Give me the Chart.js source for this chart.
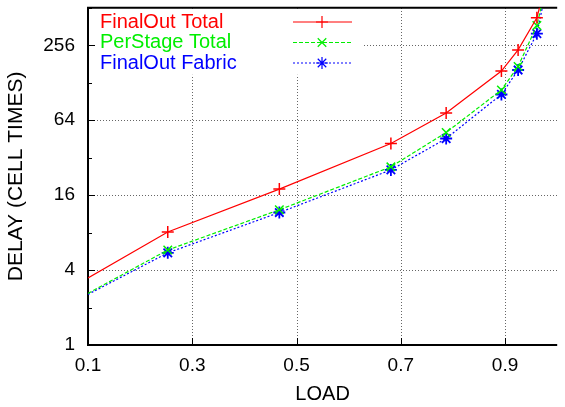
<!DOCTYPE html>
<html>
<head>
<meta charset="utf-8">
<script src="https://cdn.jsdelivr.net/npm/chart.js@4.4.1/dist/chart.umd.min.js"></script>
<style>
  body { margin: 0; background: #fff; }
  canvas { display: block; }
</style>
</head>
<body>
<canvas id="delayChart" width="565" height="407"></canvas>
<script>
// values
const load = [0.1, 0.253, 0.467, 0.681, 0.787, 0.893, 0.925, 0.961, 0.975];
const finalOutTotal = [3.46, 8.1, 17.9, 41.6, 73, 159, 235, 425, 720];
const perStageTotal = [2.6, 5.8, 12.2, 27, 51, 112, 173, 369, 656];
const finalOutFabric = [2.55, 5.5, 11.6, 25.5, 45.6, 103, 162, 317, 605];

const xTicks = [0.1, 0.3, 0.5, 0.7, 0.9];
const yTicks = [1, 2, 4, 8, 16, 32, 64, 128, 256, 512];
const yTickLabels = [1, 4, 16, 64, 256];

const FONT = 'Liberation Sans, Arial, sans-serif';

function pts(ys) {
    return ys.map((y, i) => ({ x: load[i], y: y }));
}

// first sample sits on the left border, gnuplot shows no marker there
const hideFirst = ctx => ctx.dataIndex === 0 ? 0 : 6;

// grid, inward ticks, border and the opaque key box (gnuplot look)
const frame = {
    id: 'frame',
    beforeDatasetsDraw(chart) {
        const c = chart.ctx;
        const a = chart.chartArea;
        const xs = chart.scales.x, ys = chart.scales.y;
        c.save();
        c.strokeStyle = '#666';
        c.lineWidth = 1;
        c.setLineDash([1, 2]);
        xTicks.slice(1).forEach(v => {
            const px = Math.round(xs.getPixelForValue(v)) + 0.5;
            c.beginPath(); c.moveTo(px, a.bottom); c.lineTo(px, a.top); c.stroke();
        });
        yTickLabels.slice(1).forEach(v => {
            const py = Math.round(ys.getPixelForValue(v)) + 0.5;
            c.beginPath(); c.moveTo(a.left, py); c.lineTo(a.right, py); c.stroke();
        });
        c.setLineDash([]);
        // key box hides the grid
        c.fillStyle = '#fff';
        c.fillRect(a.left + 2, a.top + 1, 273, 66);

        c.strokeStyle = '#000';
        c.lineWidth = 1;
        yTicks.forEach(v => {
            const py = Math.round(ys.getPixelForValue(v)) + 0.5;
            const len = yTickLabels.includes(v) ? 7 : 4;
            c.beginPath(); c.moveTo(a.left, py); c.lineTo(a.left + len, py); c.stroke();
        });
        xTicks.forEach(v => {
            const px = Math.round(xs.getPixelForValue(v)) + 0.5;
            c.beginPath(); c.moveTo(px, a.bottom); c.lineTo(px, a.bottom - 7); c.stroke();
        });
        c.lineWidth = 2;
        c.beginPath();
        c.moveTo(a.right, a.top);
        c.lineTo(a.left, a.top);
        c.lineTo(a.left, a.bottom);
        c.lineTo(a.right, a.bottom);
        c.stroke();
        c.restore();
    },
    afterDatasetsDraw(chart) {
        const c = chart.ctx;
        c.save();
        c.font = '20px ' + FONT;
        c.textBaseline = 'middle';
        chart.data.datasets.forEach((ds, i) => {
            const y = 22 + i * 20.5;
            c.fillStyle = ds.borderColor;
            c.fillText(ds.label, 100, y);
            c.strokeStyle = ds.borderColor;
            c.lineWidth = 1.2;
            c.setLineDash(ds.borderDash || []);
            c.beginPath(); c.moveTo(293, y); c.lineTo(352, y); c.stroke();
            c.setLineDash([]);
            Chart.helpers.drawPoint(c, { pointStyle: ds.pointStyle, radius: 6, borderWidth: 1.5 }, 322, y);
        });
        c.restore();
    }
};

new Chart(document.getElementById('delayChart'), {
    type: 'line',
    data: {
        datasets: [{
            label: 'FinalOut Total',
            data: pts(finalOutTotal),
            borderColor: '#ff0000',
            borderWidth: 1.2,
            pointStyle: 'cross',
            pointRadius: hideFirst,
            pointBorderWidth: 1.5,
            pointBorderColor: '#ff0000'
        }, {
            label: 'PerStage Total',
            data: pts(perStageTotal),
            borderColor: '#00ee00',
            borderWidth: 1.2,
            borderDash: [4, 2],
            pointStyle: 'crossRot',
            pointRadius: hideFirst,
            pointBorderWidth: 1.5,
            pointBorderColor: '#00ee00'
        }, {
            label: 'FinalOut Fabric',
            data: pts(finalOutFabric),
            borderColor: '#0000ff',
            borderWidth: 1.2,
            borderDash: [2, 2],
            pointStyle: 'star',
            pointRadius: hideFirst,
            pointBorderWidth: 1.8,
            pointBorderColor: '#0000ff'
        }]
    },
    options: {
        responsive: false,
        animation: false,
        layout: { padding: { top: 6, right: 0, left: 0, bottom: 0 } },
        plugins: { legend: { display: false }, tooltip: { enabled: false } },
        elements: { line: { tension: 0, fill: false } },
        scales: {
            x: {
                type: 'linear',
                min: 0.1,
                max: 1.0,
                afterBuildTicks(scale) { scale.ticks = xTicks.map(v => ({ value: v })); },
                afterFit(scale) { scale.height = 62; scale.paddingLeft = 0; scale.paddingRight = 0; },
                grid: { display: false, drawTicks: false },
                border: { display: false },
                ticks: {
                    autoSkip: false,
                    maxRotation: 0,
                    padding: 9,
                    color: '#000',
                    font: { family: FONT, size: 19 },
                    callback: v => v.toFixed(1)
                },
                title: {
                    display: true,
                    text: 'LOAD',
                    color: '#000',
                    padding: { top: 0, bottom: 1 },
                    font: { family: FONT, size: 20 }
                }
            },
            y: {
                type: 'logarithmic',
                min: 1,
                max: 512,
                afterBuildTicks(scale) { scale.ticks = yTicks.map(v => ({ value: v })); },
                afterFit(scale) { scale.width = 88; scale.paddingTop = 0; scale.paddingBottom = 0; },
                grid: { display: false, drawTicks: false },
                border: { display: false },
                ticks: {
                    autoSkip: false,
                    padding: 13,
                    color: '#000',
                    font: { family: FONT, size: 19 },
                    callback: v => yTickLabels.includes(v) ? String(v) : ''
                },
                title: {
                    display: true,
                    text: 'DELAY (CELL TIMES)',
                    color: '#000',
                    padding: { top: 4, bottom: 0 },
                    font: { family: FONT, size: 21 }
                }
            }
        }
    },
    plugins: [frame]
});
</script>
</body>
</html>
